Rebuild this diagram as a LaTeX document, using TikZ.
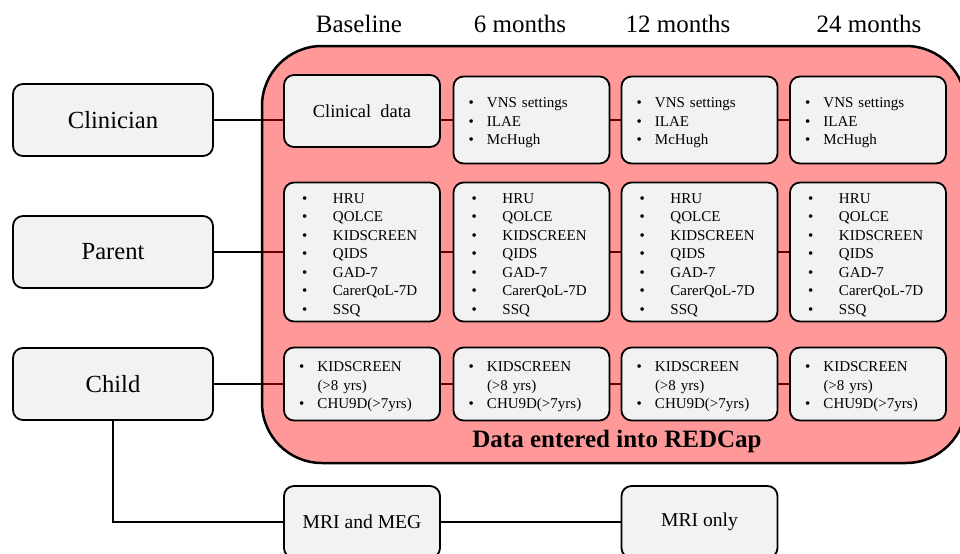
\documentclass[tikz,border=0pt]{standalone}
\usepackage{fontspec}
\setmainfont{Liberation Serif}
\usepackage{xcolor}
\usetikzlibrary{backgrounds}
\definecolor{boxgrey}{HTML}{F2F2F2}
\newcommand\itm[2][9.25pt]{\makebox[#1][l]{\textbullet}#2}
\tikzset{>=latex}
\tikzset{
  cellbox/.style={draw, fill=boxgrey, rounded corners=5pt, line width=0.9pt, minimum width=78pt, inner sep=0pt},
  whobox/.style={cellbox, minimum width=100pt, minimum height=36pt, font=\fontsize{12.3}{14}\selectfont},
  itembox/.style={cellbox, align=left, inner xsep=7.5pt, text width=63pt, font=\fontsize{7.5}{9.25}\selectfont},
  headtext/.style={anchor=base, font=\fontsize{12.5}{14}\selectfont},
  wire/.style={line width=0.75pt},
}

\begin{document}
\begin{tikzpicture}[x=0.5pt, y=-0.5pt]
\useasboundingbox (0,0) rectangle (960,553);

% lists (first line a bit taller, to push text down)
\def\clinlist{\itm{\rule{0pt}{8pt}VNS settings}\\\itm{ILAE}\\\itm{McHugh}}
\def\parlist{\itm[15.5pt]{\rule{0pt}{8pt}HRU}\\\itm[15.5pt]{QOLCE}\\\itm[15.5pt]{KIDSCREEN}\\\itm[15.5pt]{QIDS}\\\itm[15.5pt]{GAD-7}\\\itm[15.5pt]{CarerQoL-7D}\\\itm[15.5pt]{SSQ}}
\def\kidlist{\itm{\rule{0pt}{8pt}KIDSCREEN}\\\hspace*{9.25pt}(>8 yrs)\\\itm{CHU9D(>7yrs)}}

% Respondents
\node[whobox] (clin) at (113,120) {Clinician};
\node[whobox] (par) at (113,252) {Parent};
\node[whobox] (chi) at (113,384) {Child};

% Time points
\node[headtext] (t0) at (359,32) {Baseline};
\node[headtext] (t6) at (520,32) {6 months};
\node[headtext] (t12) at (678,32) {12 months};
\node[headtext] (t24) at (869,32) {24 months};

% Clinician row
\node[cellbox, minimum height=36pt, font=\fontsize{9.2}{11}\selectfont] (cd) at (362,111) {Clinical~~data};
\foreach \c/\x in {2/531.5,3/699.5,4/868}{
	\node[itembox, minimum height=43.5pt] (v\c) at (\x,120) {\clinlist};
}

% Parent row
\foreach \c/\x in {1/362,2/531.5,3/699.5,4/868}{
	\node[itembox, inner xsep=9pt, text width=60pt, minimum height=69.5pt] (p\c) at (\x,252) {\parlist};
}

% Child row
\foreach \c/\x in {1/362,2/531.5,3/699.5,4/868}{
	\node[itembox, minimum height=36.5pt] (k\c) at (\x,384) {\kidlist};
}

% Imaging
\node[cellbox, minimum height=36pt, font=\fontsize{9.8}{11}\selectfont] (mm) at (362,522) {MRI and MEG};
\node[cellbox, minimum height=36pt, font=\fontsize{9.8}{11}\selectfont] (mo) at (699.5,522) {MRI only};

\node[anchor=base, font=\bfseries\fontsize{12.5}{14}\selectfont] (redcap) at (617,447) {Data entered into REDCap};

\begin{scope}[on background layer]
\draw[wire] (clin.east) -- (clin.east -| cd.west);
\draw[wire] (cd.east |- v2.west) -- (v2.west);
\draw[wire] (v2) -- (v3);
\draw[wire] (v3) -- (v4);
\draw[wire] (par) -- (p1);
\draw[wire] (chi) -- (k1);
\foreach \a/\b in {1/2,2/3,3/4}{
	\draw[wire] (p\a) -- (p\b);
	\draw[wire] (k\a) -- (k\b);
}
\draw[wire] (chi.south) |- (mm.west);
\draw[wire] (mm) -- (mo);

% REDCap area
\draw[fill=red, fill opacity=0.4, line width=1.25pt, rounded corners=30pt] (262,46) rectangle (966,463);
\end{scope}

\end{tikzpicture}
\end{document}
